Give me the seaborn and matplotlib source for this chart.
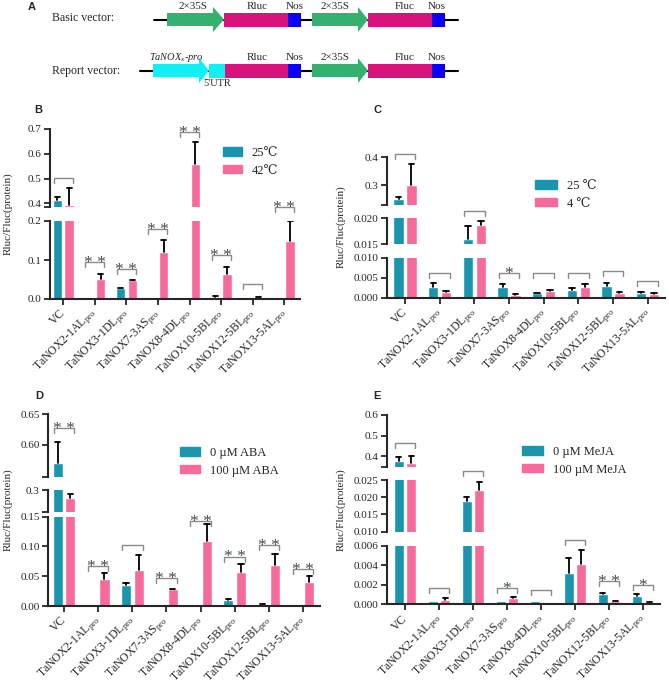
import matplotlib
matplotlib.use("Agg")
import numpy as np
import pandas as pd
import matplotlib.pyplot as plt
import seaborn as sns
from matplotlib.patches import Rectangle, Polygon, Patch

# promoters on the x axis
promoters = ["VC", "TaNOX2-1AL", "TaNOX3-1DL", "TaNOX7-3AS", "TaNOX8-4DL",
             "TaNOX10-5BL", "TaNOX12-5BL", "TaNOX13-5AL"]
tick_labels = ["VC"] + [p + r"$_{\mathrm{pro}}$" for p in promoters[1:]]

# B: heat
heat_names = ["25℃", "42℃"]
heat_ctrl = [0.412, 0.0005, 0.028, 0.0005, 0.001, 0.006, 0.0005, 0.001]
heat_ctrl_err = [0.013, 0, 0.001, 0, 0, 0.001, 0, 0]
heat_trt = [0.392, 0.051, 0.048, 0.121, 0.557, 0.064, 0.004, 0.149]
heat_trt_err = [0.070, 0.012, 0.002, 0.031, 0.092, 0.018, 0.001, 0.051]
heat_bracket = [0.503, 0.095, 0.077, 0.180, 0.688, 0.113, 0.038, 0.236]
heat_stars = ["", "**", "**", "**", "**", "**", "", "**"]

# C: cold
cold_names = ["25 ℃", "4 ℃"]
cold_ctrl = [0.248, 0.0027, 0.0161, 0.0026, 0.0011, 0.0019, 0.0029, 0.0012]
cold_ctrl_err = [0.008, 0.0011, 0.0024, 0.0008, 0.0001, 0.0005, 0.0008, 0.0002]
cold_trt = [0.300, 0.0014, 0.0187, 0.0007, 0.0018, 0.0027, 0.0012, 0.0010]
cold_trt_err = [0.075, 0.0002, 0.0008, 0.0002, 0.0002, 0.0008, 0.0002, 0.0002]
cold_bracket = [0.412, 0.0061, 0.0214, 0.0061, 0.0061, 0.0061, 0.0067, 0.0043]
cold_stars = ["", "", "", "*", "", "", "", ""]

# D: ABA
aba_names = ["0 µM ABA", "100 µM ABA"]
aba_ctrl = [0.570, 0.0005, 0.035, 0.0005, 0.0005, 0.010, 0.003, 0.0005]
aba_ctrl_err = [0.034, 0, 0.003, 0, 0, 0.001, 0.0005, 0]
aba_trt = [0.265, 0.046, 0.060, 0.028, 0.110, 0.057, 0.069, 0.041]
aba_trt_err = [0.015, 0.009, 0.025, 0.001, 0.028, 0.013, 0.018, 0.009]
aba_bracket = [0.627, 0.067, 0.103, 0.047, 0.142, 0.083, 0.102, 0.062]
aba_stars = ["**", "**", "", "**", "**", "**", "**", "**"]

# E: MeJA
meja_names = ["0 µM MeJA", "100 µM MeJA"]
meja_ctrl = [0.377, 0.0003, 0.0190, 0.0003, 0.0003, 0.0032, 0.0011, 0.0008]
meja_ctrl_err = [0.020, 0, 0.0011, 0, 0, 0.0015, 0.00005, 0.0003]
meja_trt = [0.369, 0.0004, 0.0220, 0.0006, 0.0002, 0.0041, 0.0003, 0.0002]
meja_trt_err = [0.031, 0.0002, 0.0025, 0.0001, 0, 0.0015, 0.00005, 0.00005]
meja_bracket = [0.467, 0.0017, 0.0276, 0.0017, 0.0015, 0.0066, 0.0024, 0.0020]
meja_stars = ["", "", "", "*", "", "", "**", "*"]

TEAL = "#1995ad"
PINK = "#f66b9b"
W, H = 669, 688

sns.set_theme(style="ticks")
plt.rcParams["font.family"] = ["Liberation Serif", "DejaVu Serif"]
plt.rcParams["mathtext.fontset"] = "custom"
plt.rcParams["mathtext.rm"] = "Liberation Serif"
plt.rcParams["mathtext.it"] = "Liberation Serif:italic"

fig = plt.figure(figsize=(W / 100, H / 100), dpi=100)


def px_rect(x0, y0, x1, y1):
    return [x0 / W, 1 - y1 / H, (x1 - x0) / W, (y1 - y0) / H]


def draw_panel(x0, x1, xlim, segs, names, ctrl, ctrl_err, trt, trt_err,
               brackets, stars):
    df = pd.DataFrame({
        "promoter": promoters * 2,
        "treatment": [names[0]] * len(promoters) + [names[1]] * len(promoters),
        "value": ctrl + trt,
    })
    axes = []
    for k, (ytop, ybot, lo, hi, ticks, labels) in enumerate(segs):
        ax = fig.add_axes(px_rect(x0, ytop, x1, ybot))
        sns.barplot(data=df, x="promoter", y="value", hue="treatment",
                    order=promoters, hue_order=names, palette=[TEAL, PINK],
                    saturation=1, width=0.74, gap=0.2, errorbar=None,
                    legend=False, ax=ax)
        # one-sided error bars
        for cont, errs in zip(ax.containers, (ctrl_err, trt_err)):
            for bar, e in zip(cont, errs):
                if e <= 0:
                    continue
                xc = bar.get_x() + bar.get_width() / 2
                h = bar.get_height()
                ax.plot([xc, xc], [h, h + e], color="black", lw=1.3)
                ax.plot([xc - 0.08, xc + 0.08], [h + e, h + e], color="black", lw=1.3)
        ax.set_xlim(*xlim)
        ax.set_ylim(lo, hi)
        ax.patch.set_alpha(0)
        ax.set_xlabel("")
        ax.set_ylabel("")
        for s in ["top", "right"]:
            ax.spines[s].set_visible(False)
        ax.spines["left"].set_linewidth(1.5)
        ax.spines["bottom"].set_linewidth(1.5)
        yt = list(ticks)
        yl = list(labels)
        if lo not in yt:
            yt.append(lo)
            yl.append("")
        ax.set_yticks(yt)
        ax.set_yticklabels(yl)
        ax.tick_params(axis="y", length=4, width=1.3, labelsize=8, pad=2)
        if k < len(segs) - 1:
            ax.spines["bottom"].set_visible(False)
            ax.tick_params(axis="x", bottom=False, labelbottom=False)
        else:
            ax.set_xticks(range(len(promoters)))
            ax.set_xticklabels(tick_labels, rotation=45, ha="right", va="center",
                               rotation_mode="anchor", fontsize=8.5)
            ax.tick_params(axis="x", length=4, width=1.3, pad=5)
        axes.append((ax, ytop, ybot, lo, hi))

    # significance brackets
    for i, (yb, st) in enumerate(zip(brackets, stars)):
        cand = [a for a in axes if a[3] <= yb]
        ax, ytop, ybot, lo, hi = max(cand, key=lambda a: a[3])
        drop = 5 * (hi - lo) / (ybot - ytop)
        ax.plot([i - 0.3, i - 0.3, i + 0.3, i + 0.3], [yb - drop, yb, yb, yb - drop],
                color="#8a8a8a", lw=1, clip_on=False)
        if st:
            ax.annotate(" ".join(st), (i, yb), xytext=(0, -3.5), textcoords="offset points",
                        ha="center", va="baseline", fontsize=12.5, color="#4a4a4a",
                        annotation_clip=False)
    return axes


def add_legend(x, y, names, hl):
    fig.legend(handles=[Patch(color=TEAL), Patch(color=PINK)], labels=names,
               loc="upper left", bbox_to_anchor=(x / W, 1 - y / H), frameon=False,
               fontsize=9, handlelength=hl, handleheight=0.65, handletextpad=0.8,
               labelspacing=0.45, borderpad=0, borderaxespad=0)


# B
draw_panel(50, 300, (-0.42, 7.5),
           [(129, 207, 0.385, 0.7, [0.4, 0.5, 0.6, 0.7], ["0.4", "0.5", "0.6", "0.7"]),
            (221, 299, 0.0, 0.2, [0.0, 0.1, 0.2], ["0.0", "0.1", "0.2"])],
           heat_names, heat_ctrl, heat_ctrl_err, heat_trt, heat_trt_err,
           heat_bracket, heat_stars)
add_legend(223, 147, heat_names, 1.5)

# C
draw_panel(387, 665, (-0.52, 7.5),
           [(157.3, 205, 0.228, 0.4, [0.3, 0.4], ["0.3", "0.4"]),
            (218.3, 244.3, 0.015, 0.020, [0.015, 0.020], ["0.015", "0.020"]),
            (257.7, 297.7, 0.0, 0.010, [0.0, 0.005, 0.010], ["0.000", "0.005", "0.010"])],
           cold_names, cold_ctrl, cold_ctrl_err, cold_trt, cold_trt_err,
           cold_bracket, cold_stars)
add_legend(535, 180, cold_names, 1.75)

# D
draw_panel(48, 320, (-0.47, 7.5),
           [(414.3, 476.7, 0.547, 0.65, [0.60, 0.65], ["0.60", "0.65"]),
            (490, 511.7, 0.2, 0.3, [0.3], ["0.3"]),
            (516.7, 606, 0.0, 0.15, [0.0, 0.05, 0.10, 0.15], ["0.00", "0.05", "0.10", "0.15"])],
           aba_names, aba_ctrl, aba_ctrl_err, aba_trt, aba_trt_err,
           aba_bracket, aba_stars)
add_legend(180, 447, aba_names, 1.6)

# E
draw_panel(387, 660, (-0.53, 7.5),
           [(415, 466.7, 0.35, 0.6, [0.4, 0.5, 0.6], ["0.4", "0.5", "0.6"]),
            (480, 531.7, 0.010, 0.025, [0.010, 0.015, 0.020, 0.025],
             ["0.010", "0.015", "0.020", "0.025"]),
            (545.7, 604.3, 0.0, 0.006, [0.0, 0.002, 0.004, 0.006],
             ["0.000", "0.002", "0.004", "0.006"])],
           meja_names, meja_ctrl, meja_ctrl_err, meja_trt, meja_trt_err,
           meja_bracket, meja_stars)
add_legend(522, 446, meja_names, 1.7)

# y labels and panel letters
for x, y in [(8, 214), (341, 227), (8, 510), (341, 510)]:
    fig.text(x / W, 1 - y / H, "Rluc/Fluc(protein)", rotation=90, ha="center",
             va="center", fontsize=8)
for lab, x, y in [("A", 32, 7), ("B", 38, 110), ("C", 377, 110), ("D", 39, 396), ("E", 377, 396)]:
    fig.text(x / W, 1 - y / H, lab, ha="center", va="center", fontsize=8,
             fontweight="bold", family="Liberation Sans")

# A: vector diagram
axa = fig.add_axes([0, 1 - 95 / H, 1, 95 / H])
axa.set_xlim(0, W)
axa.set_ylim(95, 0)
axa.axis("off")
GREEN = "#35b06e"
MAGENTA = "#d9127c"
BLUE = "#0a00f5"
CYAN = "#12f0f5"


def arrow(x0, xh, xt, yc, color):
    axa.add_patch(Polygon([(x0, yc - 6.5), (xh, yc - 6.5), (xh, yc - 12.5), (xt, yc),
                           (xh, yc + 12.5), (xh, yc + 6.5), (x0, yc + 6.5)],
                          closed=True, color=color, lw=0))


def box(x0, x1, yc, color):
    axa.add_patch(Rectangle((x0, yc - 7), x1 - x0, 14, color=color, lw=0))


for yc, start in [(19.5, 154), (70.5, 140)]:
    axa.plot([start, 458], [yc, yc], color="black", lw=1.5, zorder=0)
    box(224, 289, yc, MAGENTA)
    box(288, 301, yc, BLUE)
    arrow(312, 358, 368, yc, GREEN)
    box(368, 433, yc, MAGENTA)
    box(432, 445, yc, BLUE)
    for tx, tt in [(257, "Rluc"), (295, "Nos"), (335, "2×35S"), (405, "Fluc"), (437, "Nos")]:
        axa.text(tx, yc - 13, tt, ha="center", va="center", fontsize=8)

arrow(167, 213, 224, 19.5, GREEN)
axa.text(193, 6.5, "2×35S", ha="center", va="center", fontsize=8)
arrow(153, 199, 209, 70.5, CYAN)
box(209, 225, 70.5, CYAN)
axa.text(176, 58, r"$\mathit{TaNOX_x}$-$\mathit{pro}$", ha="center", va="center", fontsize=7.5)
axa.text(217, 84, "5'UTR", ha="center", va="center", fontsize=7.5)
axa.text(52, 18, "Basic vector:", ha="left", va="center", fontsize=8.5)
axa.text(52, 71, "Report vector:", ha="left", va="center", fontsize=8.5)

fig.savefig("out.png", dpi=100)
